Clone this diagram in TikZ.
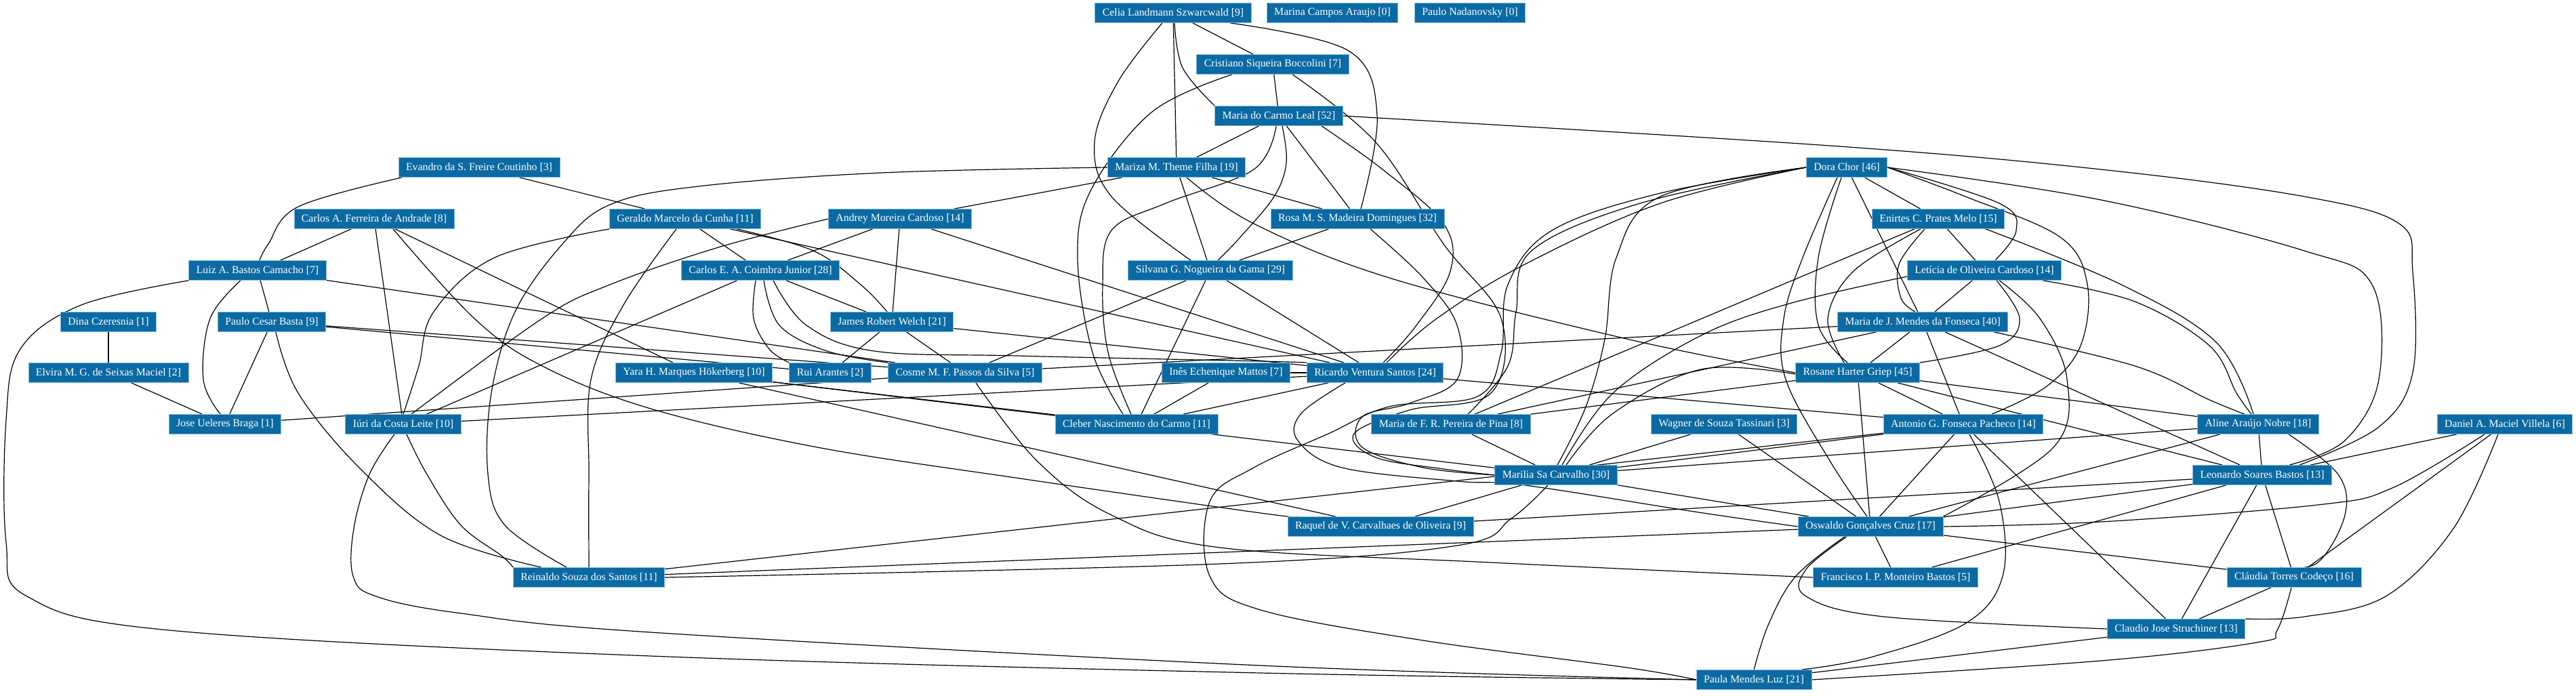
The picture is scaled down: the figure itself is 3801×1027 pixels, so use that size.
\documentclass[tikz,border=0pt]{standalone}
\usepackage{fontspec}
\setmainfont{Liberation Serif}
\usetikzlibrary{backgrounds}
\definecolor{nodeblue}{RGB}{11,106,163}
\definecolor{nodeline}{RGB}{130,185,225}
\begin{document}
\begin{tikzpicture}[x=1pt,y=-1pt,
  person/.style={fill=nodeblue, draw=nodeline, line width=0.8pt, text=white,
    font=\fontsize{15.8}{18}\selectfont, minimum height=29pt, inner xsep=11pt, inner ysep=0pt},
  edge/.style={draw=black, line width=1.2pt},
  curvy/.style={edge, smooth, tension=0.6}]
\useasboundingbox (0,0) rectangle (3801,1027);
% nodes
\node[person] (CEL) at (1731,19) {Celia Landmann Szwarcwald [9]};
\node[person] (MAR) at (1966,19) {Marina Campos Araujo [0]};
\node[person] (PNA) at (2169,19) {Paulo Nadanovsky [0]};
\node[person] (CRI) at (1878,95) {Cristiano Siqueira Boccolini [7]};
\node[person] (MCL) at (1887,171) {Maria do Carmo Leal [52]};
\node[person] (EVA) at (707,247) {Evandro da S. Freire Coutinho [3]};
\node[person] (MZA) at (1736,247) {Mariza M. Theme Filha [19]};
\node[person] (DOR) at (2725,247) {Dora Chor [46]};
\node[person] (CAF) at (552,323) {Carlos A. Ferreira de Andrade [8]};
\node[person] (GER) at (1011,323) {Geraldo Marcelo da Cunha [11]};
\node[person] (AND) at (1328,323) {Andrey Moreira Cardoso [14]};
\node[person] (ROS) at (2003,323) {Rosa M. S. Madeira Domingues [32]};
\node[person] (ENI) at (2860,323) {Enirtes C. Prates Melo [15]};
\node[person] (LUI) at (380,399) {Luiz A. Bastos Camacho [7]};
\node[person] (CEA) at (1122,399) {Carlos E. A. Coimbra Junior [28]};
\node[person] (SIL) at (1786,399) {Silvana G. Nogueira da Gama [29]};
\node[person] (LET) at (2928,399) {Letícia de Oliveira Cardoso [14]};
\node[person] (DIN) at (160,475) {Dina Czeresnia [1]};
\node[person] (PCB) at (401,475) {Paulo Cesar Basta [9]};
\node[person] (JRW) at (1316,475) {James Robert Welch [21]};
\node[person] (MJF) at (2837,475) {Maria de J. Mendes da Fonseca [40]};
\node[person] (ELV) at (160,550) {Elvira M. G. de Seixas Maciel [2]};
\node[person] (YAR) at (1024,550) {Yara H. Marques Hökerberg [10]};
\node[person] (RUI) at (1225,550) {Rui Arantes [2]};
\node[person] (COS) at (1424,550) {Cosme M. F. Passos da Silva [5]};
\node[person] (INE) at (1809,550) {Inês Echenique Mattos [7]};
\node[person] (RIC) at (2029,550) {Ricardo Ventura Santos [24]};
\node[person] (RHG) at (2741,550) {Rosane Harter Griep [45]};
\node[person] (JUB) at (332,626) {Jose Ueleres Braga [1]};
\node[person] (IUR) at (595,626) {Iúri da Costa Leite [10]};
\node[person] (CLE) at (1677,626) {Cleber Nascimento do Carmo [11]};
\node[person] (PIN) at (2141,626) {Maria de F. R. Pereira de Pina [8]};
\node[person] (WAG) at (2544,626) {Wagner de Souza Tassinari [3]};
\node[person] (AGP) at (2897,626) {Antonio G. Fonseca Pacheco [14]};
\node[person] (ALI) at (3332,626) {Aline Araújo Nobre [18]};
\node[person] (DAN) at (3696,626) {Daniel A. Maciel Villela [6]};
\node[person] (MSC) at (2296,701) {Marilia Sa Carvalho [30]};
\node[person] (LSB) at (3338,701) {Leonardo Soares Bastos [13]};
\node[person] (RAQ) at (2037,777) {Raquel de V. Carvalhaes de Oliveira [9]};
\node[person] (OGC) at (2760,777) {Oswaldo Gonçalves Cruz [17]};
\node[person] (RSS) at (869,852) {Reinaldo Souza dos Santos [11]};
\node[person] (FRA) at (2797,852) {Francisco I. P. Monteiro Bastos [5]};
\node[person] (CTC) at (3385,852) {Cláudia Torres Codeço [16]};
\node[person] (CJS) at (3211,928) {Claudio Jose Struchiner [13]};
\node[person] (PML) at (2588,1003) {Paula Mendes Luz [21]};
\begin{pgfonlayer}{background}
% straight connectors
\foreach \a/\b in {CEL/MZA, CEL/CRI, CRI/MCL, MCL/MZA, MCL/ROS, MZA/AND, MZA/SIL, MZA/ROS,
  EVA/GER, ROS/SIL, DOR/ENI, DOR/MJF, ENI/PIN, ENI/LET, LET/MJF,
  MJF/COS, MJF/PIN, MJF/RHG, MJF/AGP, MJF/LSB, CAF/LUI, CAF/IUR, CAF/YAR,
  GER/CEA, GER/RIC, AND/CEA, AND/JRW, AND/RIC, CEA/IUR, CEA/JRW,
  LUI/PCB, LUI/COS, PCB/JUB, PCB/RUI, PCB/COS, DIN/ELV, ELV/JUB, JUB/COS,
  IUR/RIC, SIL/COS, SIL/CLE, SIL/RIC, JRW/RUI, JRW/COS, JRW/RIC,
  YAR/CLE, YAR/RAQ, YAR/MSC, INE/CLE, INE/RIC, RIC/CLE, RIC/AGP,
  RHG/OGC, RHG/AGP, RHG/ALI, RHG/LSB, RHG/PIN, PIN/MSC, WAG/MSC, WAG/OGC,
  AGP/MSC, AGP/RSS, AGP/OGC, AGP/CJS, ALI/MSC, ALI/OGC, ALI/LSB,
  DAN/LSB, DAN/CTC, MSC/RAQ, MSC/OGC, LSB/RAQ, LSB/OGC, LSB/FRA, LSB/CJS, LSB/CTC,
  OGC/RSS, OGC/FRA, OGC/CTC, CTC/CJS, CJS/PML}
  \draw[edge] (\a) -- (\b);
% curved connectors
\draw[curvy] plot coordinates {(LUI.south west) (120,450) (30,515) (9,620) (9,800) (40,880) (250,930) (960,968) (1860,993) (PML.west)};
\draw[curvy] plot coordinates {([xshift=-13pt]IUR.south) (545,700) (522,780) (521,850) (555,880) (680,905) (960,933) (1860,982) (PML.west)};
\draw[curvy] plot coordinates {(MZA.west) (1300,255) (1030,275) (900,302) (830,360) (760,460) (725,580) (720,700) (745,775) ([xshift=-33pt]RSS.north)};
\draw[curvy] plot coordinates {(GER.south west) (730,380) (640,460) (618,540) (IUR.north)};
\draw[curvy] plot coordinates {([xshift=-114pt]EVA.south) (440,305) (396,360) ([xshift=3pt]LUI.north)};
\draw[curvy] plot coordinates {([xshift=-16pt]CEL.south) (1650,120) (1615,210) (1640,290) ([xshift=-29pt]SIL.north)};
\draw[curvy] plot coordinates {([xshift=2pt]CEL.south) (1745,100) (MCL.north west)};
\draw[curvy] plot coordinates {([xshift=84pt]CEL.south) (1990,75) (2032,170) ([xshift=5pt]ROS.north)};
\draw[curvy] plot coordinates {([xshift=-60pt]CRI.south) (1700,165) (1610,280) (1590,380) (1612,520) ([xshift=-20pt]CLE.north)};
\draw[curvy] plot coordinates {([xshift=-4pt]MCL.south) (1850,250) (1720,300) (1640,340) (1627,420) (1635,520) ([xshift=-8pt]CLE.north)};
\draw[curvy] plot coordinates {([xshift=5pt]MCL.south) (1898,240) (1880,290) (1830,350) ([xshift=11pt]SIL.north)};
\draw[curvy] plot coordinates {(MCL.east) (2700,215) (3100,250) (3400,290) (3540,330) (3560,400) (3560,550) (3510,630) ([xshift=55pt]LSB.north)};
\draw[curvy] plot coordinates {(DOR.east) (3100,295) (3400,370) (3500,420) (3510,560) (3460,650) ([xshift=40pt]LSB.north)};
\draw[curvy] plot coordinates {(DOR.west) (2450,285) (2290,340) (2225,420) (2215,520) (2180,585) (2050,600) (1960,640) (1850,690) (1785,740) (1785,850) (1860,900) (2100,945) (2400,985) (PML.west)};
\draw[curvy] plot coordinates {([xshift=19pt]ROS.south) (2100,410) (2150,480) (2150,560) (2080,595) (2010,615) (2010,660) (2100,690) (MSC.west)};
\draw[curvy] plot coordinates {(DOR.west) (2450,290) (2385,380) (2368,500) (2340,600) ([xshift=2pt]MSC.north)};
\draw[curvy] plot coordinates {([xshift=29pt]CRI.south) (2030,210) (2130,360) (2215,470) (2200,580) (2080,605) (1998,640) (2030,675) (2130,692) (MSC.west)};
\draw[curvy] plot coordinates {(DOR.west) (2420,300) (2260,370) (2237,460) (2225,540) ([xshift=25pt]PIN.north)};
\draw[curvy] plot coordinates {(DOR.west) (2450,300) (2250,390) (2120,470) ([xshift=17pt]RIC.north)};
\draw[curvy] plot coordinates {([xshift=63pt]MCL.south) (2040,250) (2130,330) (2140,400) (2090,480) ([xshift=12pt]RIC.north)};
\draw[curvy] plot coordinates {([xshift=6pt]PCB.south) (440,580) (530,690) (650,790) ([xshift=-70pt]RSS.north)};
\draw[curvy] plot coordinates {([xshift=-35pt]OGC.south) (2665,840) (2665,880) (2780,910) (CJS.west)};
\draw[curvy] plot coordinates {([xshift=-38pt]OGC.south) (2650,850) (2610,920) (PML.north)};
\draw[curvy] plot coordinates {([xshift=9pt]AGP.south) (2950,740) (2955,850) (2900,920) (2760,970) ([xshift=70pt]PML.north)};
\draw[curvy] plot coordinates {([xshift=-4pt]CTC.south) (3360,930) (3330,948) (3100,975) (PML.east)};
\draw[curvy] plot coordinates {([xshift=-10pt]DAN.south) (3620,780) (3520,880) (3400,910) (CJS.north east)};
\draw[curvy] plot coordinates {([xshift=-30pt]DAN.south) (3530,720) (3420,745) (3100,770) (OGC.east)};
\draw[curvy] plot coordinates {([xshift=45pt]ALI.south) (3450,700) (3460,760) (3420,830) ([xshift=-20pt]CTC.north)};
\draw[curvy] plot coordinates {(DOR.east) (2900,290) (3040,350) (3080,420) (3070,510) (3020,570) ([xshift=42pt]AGP.north)};
\draw[curvy] plot coordinates {([xshift=-14pt]DOR.south) (2660,380) (2632,470) (2635,560) (2700,680) ([xshift=-5pt]OGC.north)};
\draw[curvy] plot coordinates {([xshift=18pt]LET.south) (2980,470) (2950,510) (RHG.north east)};
\draw[curvy] plot coordinates {([xshift=-8pt]DOR.south) (2683,380) (2683,480) ([xshift=-15pt]RHG.north)};
\draw[curvy] plot coordinates {([xshift=-26pt]ENI.south) (2735,400) (2697,470) ([xshift=-20pt]RHG.north)};
\draw[curvy] plot coordinates {([xshift=-20pt]ENI.south) (2802,390) (2805,440) ([xshift=-11pt]MJF.north)};
\draw[curvy] plot coordinates {(DOR.east) (2950,300) (2975,340) ([xshift=16pt]LET.north)};
\draw[curvy] plot coordinates {([xshift=22pt]LET.south) (3010,470) (3050,560) (3030,660) (OGC.north east)};
\draw[curvy] plot coordinates {([xshift=70pt]ENI.south) (3130,420) (3270,505) ([xshift=-7pt]ALI.north)};
\draw[curvy] plot coordinates {([xshift=86pt]LET.south) (3150,445) (3260,510) (3300,580) ([xshift=-10pt]ALI.north)};
\draw[curvy] plot coordinates {([xshift=105pt]MJF.south) (3150,540) (3260,590) ([xshift=-20pt]ALI.north)};
\draw[curvy] plot coordinates {([yshift=-9pt]LET.west) (2640,448) (2510,495) (2380,580) ([xshift=9pt]MSC.north)};
\draw[curvy] plot coordinates {([yshift=-2pt]RHG.west) (2510,545) (2380,610) ([xshift=15pt]MSC.north)};
\draw[curvy] plot coordinates {([xshift=15pt]MZA.south) (1850,330) (2050,410) (2400,500) (RHG.west)};
\draw[curvy] plot coordinates {([xshift=28pt]CAF.south) (700,470) (800,540) (960,603) (1206,660) (1512,707) (1860,757) ([xshift=-124pt]RAQ.north)};
\draw[curvy] plot coordinates {([xshift=-13pt]GER.south) (920,450) (872,560) (869,700) (RSS.north)};
\draw[curvy] plot coordinates {(AND.west) (1060,365) (900,420) (800,470) ([xshift=12pt]IUR.north)};
\draw[curvy] plot coordinates {([xshift=5pt]IUR.south) (630,700) (680,775) (740,820) (RSS.north west)};
\draw[curvy] plot coordinates {([xshift=-12pt]MSC.south) (2230,765) (2150,805) (1800,832) (RSS.east)};
\draw[curvy] plot coordinates {([xshift=-44pt]RIC.south) (1920,610) (1915,650) (1980,690) (2150,710) (2250,716) (2500,755) (OGC.west)};
\draw[curvy] plot coordinates {([xshift=19pt]CEA.south) (1190,480) (1290,518) (1500,525) (1860,533) (RIC.north west)};
\draw[curvy] plot coordinates {([xshift=-7pt]CEA.south) (1112,470) (1135,515) (RUI.north west)};
\draw[curvy] plot coordinates {([xshift=5pt]CEA.south) (1150,480) (1220,518) (COS.north west)};
\draw[curvy] plot coordinates {([xshift=76pt]GER.south) (1200,370) (1270,420) ([xshift=-7pt]JRW.north)};
\draw[curvy] plot coordinates {([xshift=16pt]COS.south) (1530,680) (1640,760) (1800,808) (2200,830) (FRA.west)};
\draw[curvy] plot coordinates {([xshift=-25pt]LUI.south) (310,470) (300,560) ([xshift=-7pt]JUB.north)};
\end{pgfonlayer}
\end{tikzpicture}
\end{document}
